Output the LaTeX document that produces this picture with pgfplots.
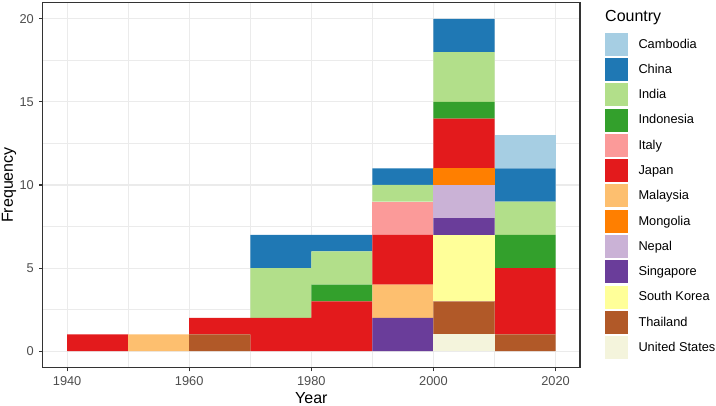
\documentclass[border=0pt]{standalone}
\usepackage{fontspec}
\setmainfont{Liberation Sans}
\usepackage{pgfplots}
\pgfplotsset{compat=1.18}
\definecolor{cCambodia}{HTML}{A6CEE3}
\definecolor{cChina}{HTML}{1F78B4}
\definecolor{cIndia}{HTML}{B2DF8A}
\definecolor{cIndonesia}{HTML}{33A02C}
\definecolor{cItaly}{HTML}{FB9A99}
\definecolor{cJapan}{HTML}{E31A1C}
\definecolor{cMalaysia}{HTML}{FDBF6F}
\definecolor{cMongolia}{HTML}{FF7F00}
\definecolor{cNepal}{HTML}{CAB2D6}
\definecolor{cSingapore}{HTML}{6A3D9A}
\definecolor{cSKorea}{HTML}{FFFF99}
\definecolor{cThailand}{HTML}{B15928}
\definecolor{cUS}{HTML}{F4F4DC}
\definecolor{gridgray}{HTML}{EBEBEB}
\definecolor{tickgray}{HTML}{333333}
\definecolor{labgray}{HTML}{4D4D4D}
\pgfplotsset{sqleg/.style={legend image code/.code={\fill[##1] (0pt,-11.5pt) rectangle (23pt,11.5pt);}}}
\begin{document}
\begin{tikzpicture}
\path[use as bounding box] (-42.7pt,-38.3pt) rectangle (673.3pt,367.7pt);
\begin{axis}[
  at={(0pt,0pt)}, anchor=south west,
  scale only axis, width=537.3pt, height=365.4pt,
  xmin=1936, xmax=2024, ymin=-1, ymax=21,
  ybar stacked, bar width=10,
  xtick={1940,1960,1980,2000,2020}, minor xtick={1950,1970,1990,2010},
  ytick={0,5,10,15,20}, minor ytick={2.5,7.5,12.5,17.5},
  grid=both,
  major grid style={draw=gridgray, line width=1.07pt},
  minor grid style={draw=gridgray, line width=0.53pt},
  tick align=outside, tick pos=left,
  major tick length=3.7pt, minor tick length=0pt,
  major tick style={draw=tickgray, line width=1.07pt},
  axis line style={draw=tickgray, line width=1.07pt},
  /pgf/number format/1000 sep={},
  /pgf/number format/assume math mode=true,
  ticklabel style={font=\fontsize{12.8}{15}\selectfont, text=labgray},
  yticklabel style={xshift=-1.7pt},
  xticklabel style={yshift=-2pt},
  xlabel={Year}, ylabel={Frequency},
  label style={font=\fontsize{16}{19}\selectfont},
  xlabel style={at={(axis description cs:0.5,-0.0829)}, anchor=center},
  ylabel style={at={(axis description cs:-0.0627,0.5)}, anchor=center},
  reverse legend,
  legend cell align=left,
  legend style={at={(axis description cs:1.04653,0.9168)}, anchor=north west, draw=none, fill=none, inner sep=0pt, outer sep=0pt, row sep=2.28pt, column sep=8.5pt, font=\fontsize{12.8}{15}\selectfont},
]
% bins centred at 1945,...,2015 ; stacked bottom to top
\addplot[fill=cUS, draw=none, sqleg] coordinates {(1945,0) (1955,0) (1965,0) (1975,0) (1985,0) (1995,0) (2005,1) (2015,0)};
\addlegendentry{United States}
\addplot[fill=cThailand, draw=none, sqleg] coordinates {(1945,0) (1955,0) (1965,1) (1975,0) (1985,0) (1995,0) (2005,2) (2015,1)};
\addlegendentry{Thailand}
\addplot[fill=cSKorea, draw=none, sqleg] coordinates {(1945,0) (1955,0) (1965,0) (1975,0) (1985,0) (1995,0) (2005,4) (2015,0)};
\addlegendentry{South Korea}
\addplot[fill=cSingapore, draw=none, sqleg] coordinates {(1945,0) (1955,0) (1965,0) (1975,0) (1985,0) (1995,2) (2005,1) (2015,0)};
\addlegendentry{Singapore}
\addplot[fill=cNepal, draw=none, sqleg] coordinates {(1945,0) (1955,0) (1965,0) (1975,0) (1985,0) (1995,0) (2005,2) (2015,0)};
\addlegendentry{Nepal}
\addplot[fill=cMongolia, draw=none, sqleg] coordinates {(1945,0) (1955,0) (1965,0) (1975,0) (1985,0) (1995,0) (2005,1) (2015,0)};
\addlegendentry{Mongolia}
\addplot[fill=cMalaysia, draw=none, sqleg] coordinates {(1945,0) (1955,1) (1965,0) (1975,0) (1985,0) (1995,2) (2005,0) (2015,0)};
\addlegendentry{Malaysia}
\addplot[fill=cJapan, draw=none, sqleg] coordinates {(1945,1) (1955,0) (1965,1) (1975,2) (1985,3) (1995,3) (2005,3) (2015,4)};
\addlegendentry{Japan}
\addplot[fill=cItaly, draw=none, sqleg] coordinates {(1945,0) (1955,0) (1965,0) (1975,0) (1985,0) (1995,2) (2005,0) (2015,0)};
\addlegendentry{Italy}
\addplot[fill=cIndonesia, draw=none, sqleg] coordinates {(1945,0) (1955,0) (1965,0) (1975,0) (1985,1) (1995,0) (2005,1) (2015,2)};
\addlegendentry{Indonesia}
\addplot[fill=cIndia, draw=none, sqleg] coordinates {(1945,0) (1955,0) (1965,0) (1975,3) (1985,2) (1995,1) (2005,3) (2015,2)};
\addlegendentry{India}
\addplot[fill=cChina, draw=none, sqleg] coordinates {(1945,0) (1955,0) (1965,0) (1975,2) (1985,1) (1995,1) (2005,2) (2015,2)};
\addlegendentry{China}
\addplot[fill=cCambodia, draw=none, sqleg] coordinates {(1945,0) (1955,0) (1965,0) (1975,0) (1985,0) (1995,0) (2005,0) (2015,2)};
\addlegendentry{Cambodia}
\end{axis}
\node[anchor=west, inner sep=0pt, font=\fontsize{16}{19}\selectfont] at (562.3pt,350.4pt) {Country};
\end{tikzpicture}
\end{document}
